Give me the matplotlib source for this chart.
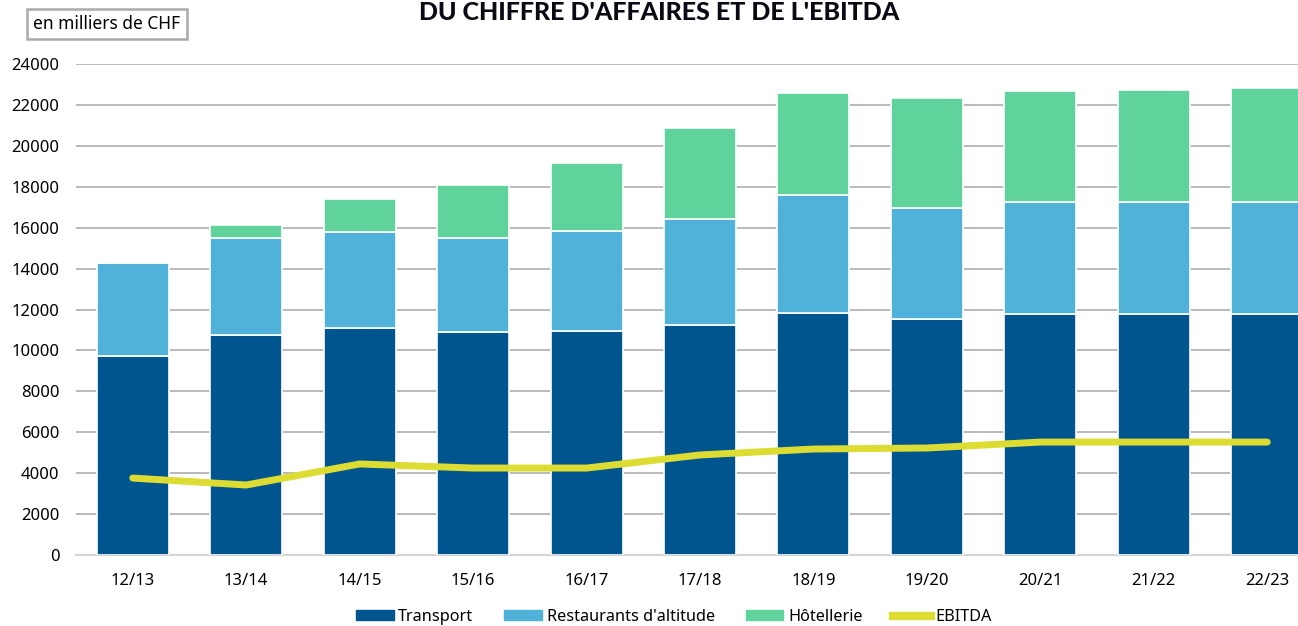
import matplotlib
matplotlib.use("Agg")
import matplotlib.pyplot as plt
from matplotlib.patches import Patch
from matplotlib.lines import Line2D
import numpy as np

categories = ["12/13", "13/14", "14/15", "15/16", "16/17", "17/18", "18/19", "19/20", "20/21", "21/22", "22/23"]
transport = [9730, 10750, 11090, 10900, 10950, 11240, 11830, 11530, 11780, 11780, 11780]
restaurants = [4540, 4740, 4700, 4590, 4890, 5180, 5770, 5430, 5470, 5470, 5470]
hotellerie = [0, 640, 1610, 2590, 3320, 4450, 4980, 5380, 5430, 5480, 5580]
ebitda = [3760, 3420, 4450, 4250, 4250, 4890, 5180, 5230, 5520, 5520, 5520]

c_trans = "#00558F"
c_rest = "#50B2D8"
c_hot = "#60D29C"
c_ebit = "#DCDC32"

plt.rcParams['font.family'] = ['Noto Sans', 'DejaVu Sans']

W, H = 1298, 626
fig = plt.figure(figsize=(W/100, H/100), dpi=100)
ax_left = 76 / W
ax_right = 1324 / W
ax_bottom = 1 - 555 / H
ax_top = 1 - 64 / H
ax = fig.add_axes([ax_left, ax_bottom, ax_right - ax_left, ax_top - ax_bottom])

x = np.arange(len(categories))
bw = 0.635
t = np.array(transport); r = np.array(restaurants); h = np.array(hotellerie)
ax.bar(x, t, bw, color=c_trans, edgecolor="white", linewidth=1.2, zorder=3)
ax.bar(x, r, bw, bottom=t, color=c_rest, edgecolor="white", linewidth=1.2, zorder=3)
ax.bar(x, h, bw, bottom=t + r, color=c_hot, edgecolor="white", linewidth=1.2, zorder=3)
ax.plot(x, ebitda, color=c_ebit, linewidth=5, solid_capstyle="round", solid_joinstyle="round", zorder=4)

ax.set_xlim(-0.5, len(categories) - 0.5)
ax.set_ylim(0, 24000)
ax.set_yticks(np.arange(0, 24001, 2000))
ax.set_xticks(x)
ax.set_xticklabels(categories)
ax.yaxis.grid(True, color="#B4B4B4", linewidth=1.3, zorder=0)
ax.set_axisbelow(True)
for s in ["top", "right", "left"]:
    ax.spines[s].set_visible(False)
ax.spines["bottom"].set_color("#D4D4D4")
ax.spines["bottom"].set_linewidth(1.5)
ax.tick_params(axis="both", length=0, labelsize=12, colors="black")
ax.tick_params(axis="y", pad=12)
ax.tick_params(axis="x", pad=13)

fig.text(659 / W, 1 - 13 / H, "DU CHIFFRE D'AFFAIRES ET DE L'EBITDA", ha="center", va="center",
         fontsize=18, fontweight="black", color="#0A0A14", family=["Lato", "DejaVu Sans"])

fig.text(107 / W, 1 - 24 / H, "en milliers de CHF", ha="center", va="center", fontsize=12.5,
         bbox=dict(boxstyle="square,pad=0.35", facecolor="white", edgecolor="#AAAAAA", linewidth=1.8))

handles = [Patch(color=c_trans, label="Transport"),
           Patch(color=c_rest, label="Restaurants d'altitude"),
           Patch(color=c_hot, label="Hôtellerie"),
           Line2D([0], [0], color=c_ebit, linewidth=6, label="EBITDA")]
fig.legend(handles=handles, loc="center", bbox_to_anchor=(674 / W, 1 - 617 / H), ncol=4, frameon=False,
           fontsize=11.7, handlelength=2.3, handleheight=0.55, columnspacing=1.9, handletextpad=0.3,
           borderaxespad=0, borderpad=0)

fig.savefig("out.png", dpi=100)
